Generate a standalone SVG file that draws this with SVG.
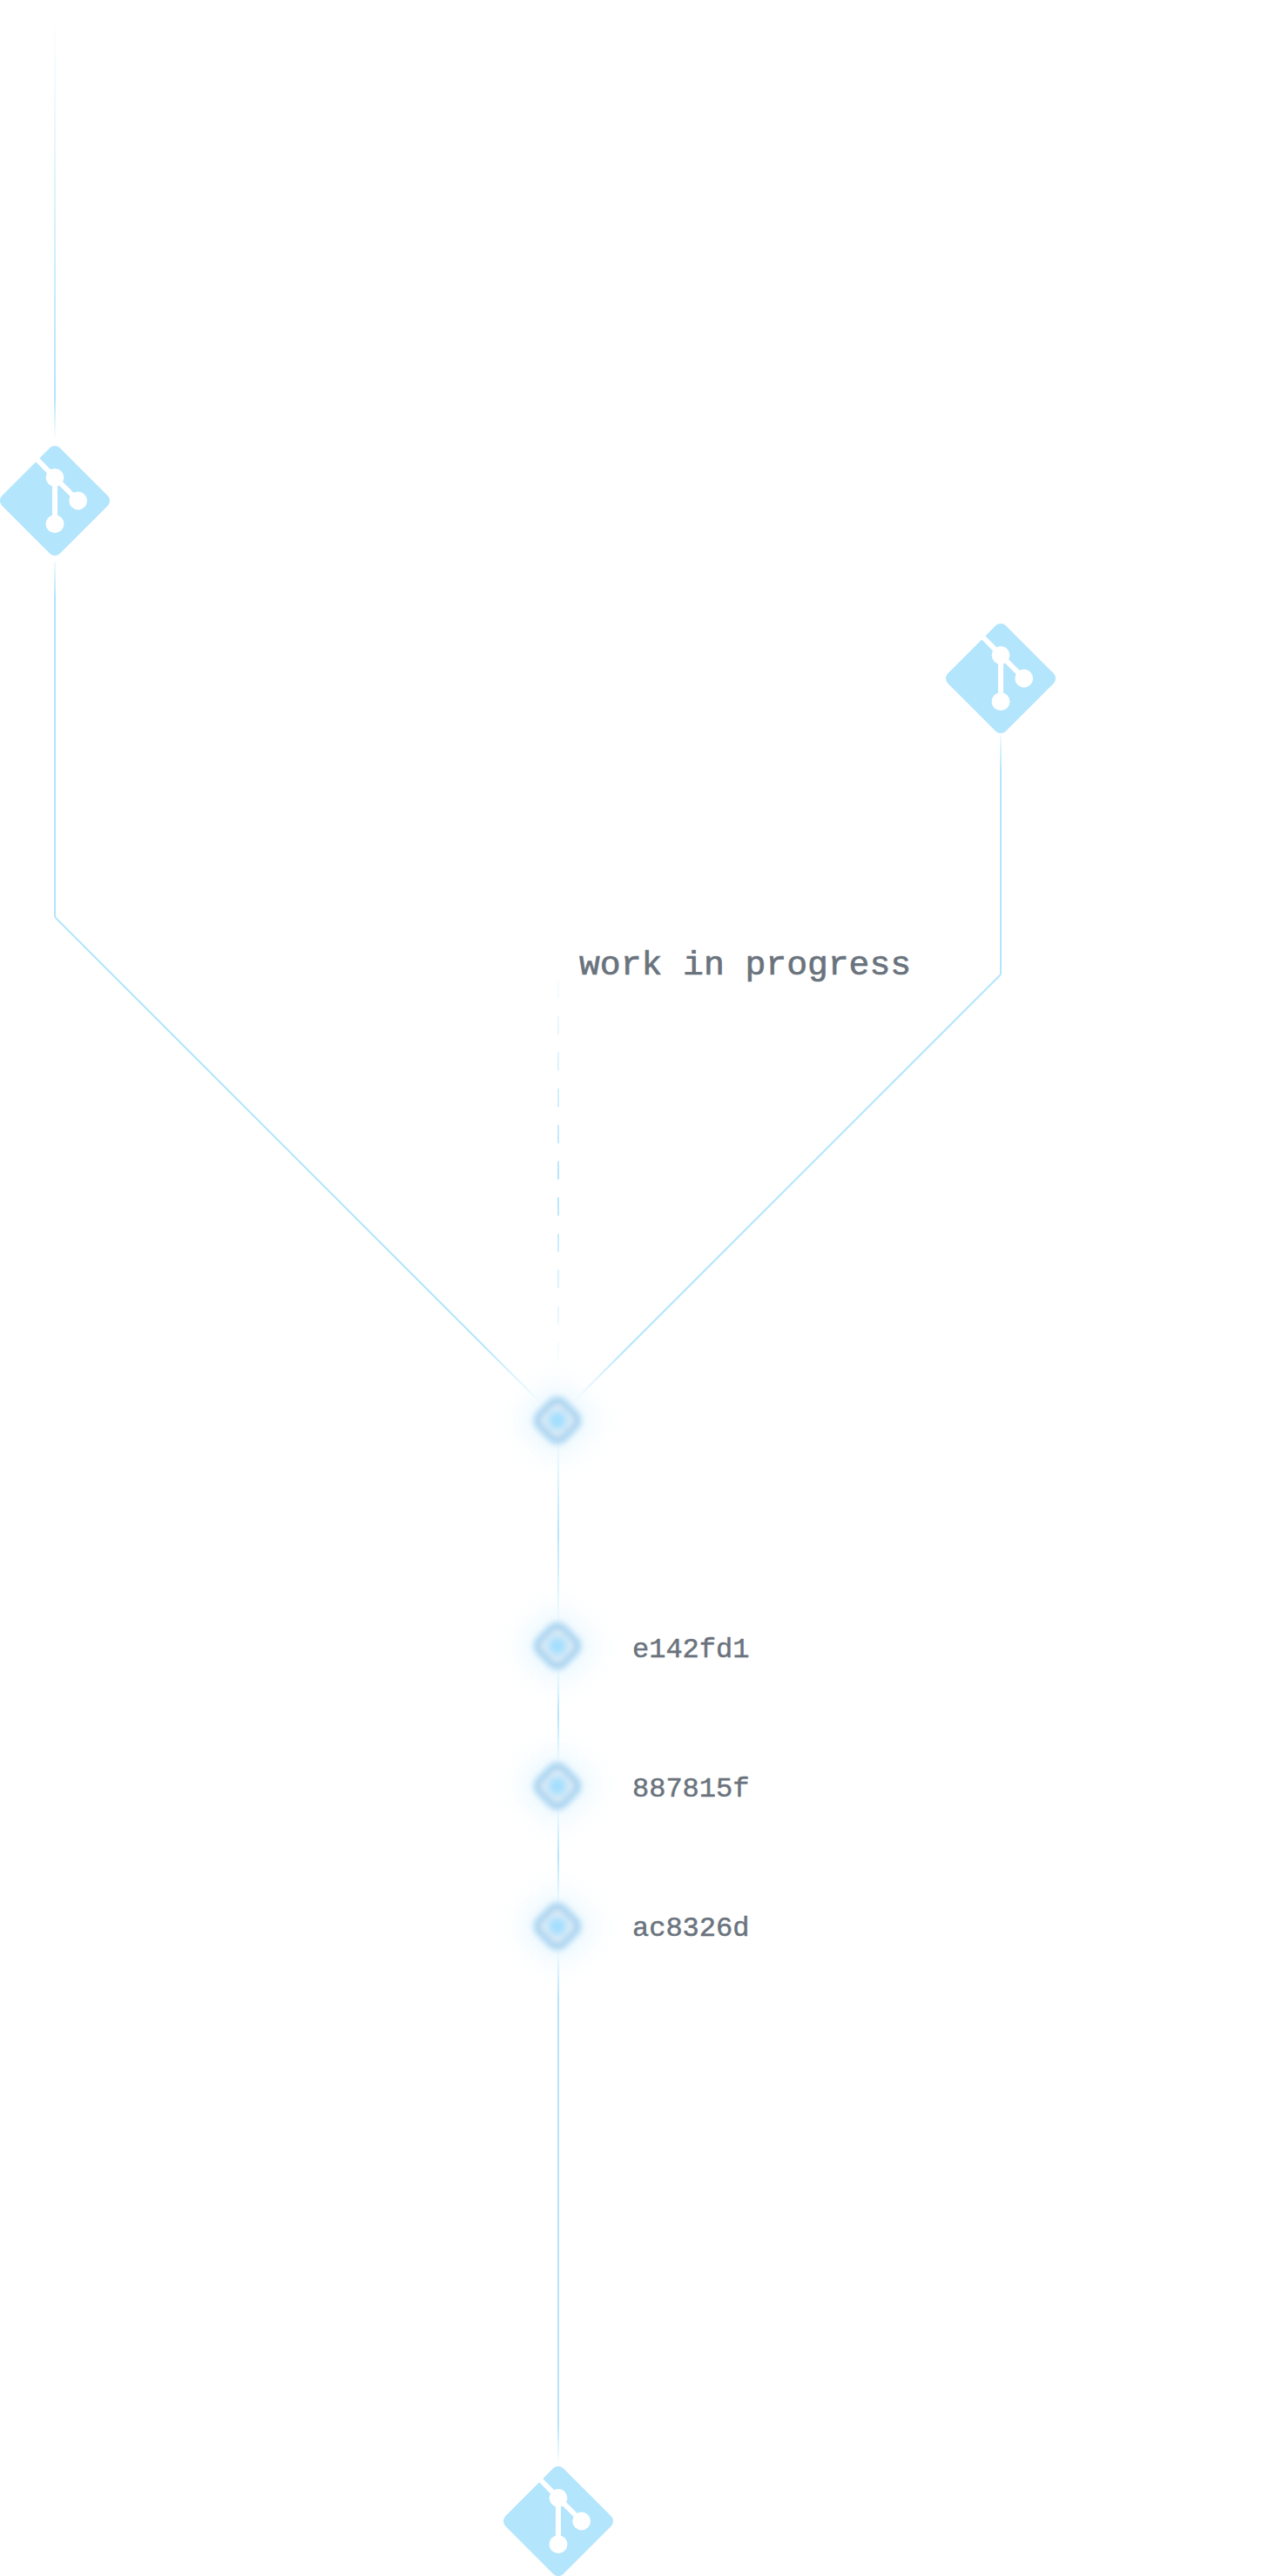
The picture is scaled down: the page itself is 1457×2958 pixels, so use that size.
<svg xmlns="http://www.w3.org/2000/svg" width="1457" height="2958" viewBox="0 0 1457 2958">
<style>
.wire{fill:none;stroke-width:2}
.plate{fill:#b3e5fc}
.cut{fill:none;stroke:#fff;stroke-width:6}
.dot{fill:#fff}
.ring{fill:#e6eef4;stroke:#a4d2f0;stroke-width:8;filter:url(#b3)}
.halo{fill:#b3e5fc;opacity:.24;filter:url(#b16)}
.core{fill:#a0deff;filter:url(#b6)}
text{font-family:"Liberation Mono","DejaVu Sans Mono",monospace;fill:#6a737d;stroke:#6a737d}
.big{font-size:39.7px;stroke-width:.7}
.small{font-size:32px;stroke-width:.5}
</style>
<defs>
<filter id="b3" x="-50%" y="-50%" width="200%" height="200%"><feGaussianBlur stdDeviation="3.5"/></filter>
<filter id="b6" x="-100%" y="-100%" width="300%" height="300%"><feGaussianBlur stdDeviation="5"/></filter>
<filter id="b16" x="-100%" y="-100%" width="300%" height="300%"><feGaussianBlur stdDeviation="15"/></filter>
<linearGradient id="g1" gradientUnits="userSpaceOnUse" x1="0" y1="10" x2="0" y2="505"><stop offset="0" stop-color="#b3e5fc" stop-opacity="0"/><stop offset=".9" stop-color="#b3e5fc"/><stop offset="1" stop-color="#b3e5fc" stop-opacity="0"/></linearGradient>
<linearGradient id="g2" gradientUnits="userSpaceOnUse" x1="0" y1="645" x2="0" y2="1053"><stop offset="0" stop-color="#b3e5fc" stop-opacity=".2"/><stop offset=".1" stop-color="#b3e5fc"/></linearGradient>
<linearGradient id="g3" gradientUnits="userSpaceOnUse" x1="63" y1="1053" x2="622" y2="1612"><stop offset=".88" stop-color="#b3e5fc"/><stop offset="1" stop-color="#b3e5fc" stop-opacity="0"/></linearGradient>
<linearGradient id="g4" gradientUnits="userSpaceOnUse" x1="0" y1="845" x2="0" y2="1119"><stop offset="0" stop-color="#b3e5fc" stop-opacity=".2"/><stop offset=".15" stop-color="#b3e5fc"/></linearGradient>
<linearGradient id="g5" gradientUnits="userSpaceOnUse" x1="1149" y1="1119" x2="658" y2="1610"><stop offset=".88" stop-color="#b3e5fc"/><stop offset="1" stop-color="#b3e5fc" stop-opacity="0"/></linearGradient>
<linearGradient id="g6" gradientUnits="userSpaceOnUse" x1="0" y1="1100" x2="0" y2="1575"><stop offset="0" stop-color="#b3e5fc" stop-opacity="0"/><stop offset=".55" stop-color="#b3e5fc"/><stop offset="1" stop-color="#b3e5fc" stop-opacity="0"/></linearGradient>
<linearGradient id="g7" gradientUnits="userSpaceOnUse" x1="0" y1="1650" x2="0" y2="1870"><stop offset="0" stop-color="#b3e5fc" stop-opacity="0"/><stop offset=".5" stop-color="#b3e5fc"/><stop offset="1" stop-color="#b3e5fc" stop-opacity="0"/></linearGradient>
<linearGradient id="g8" gradientUnits="userSpaceOnUse" x1="0" y1="1912" x2="0" y2="2028"><stop offset="0" stop-color="#b3e5fc" stop-opacity="0"/><stop offset=".5" stop-color="#b3e5fc"/><stop offset="1" stop-color="#b3e5fc" stop-opacity="0"/></linearGradient>
<linearGradient id="g9" gradientUnits="userSpaceOnUse" x1="0" y1="2073" x2="0" y2="2190"><stop offset="0" stop-color="#b3e5fc" stop-opacity="0"/><stop offset=".5" stop-color="#b3e5fc"/><stop offset="1" stop-color="#b3e5fc" stop-opacity="0"/></linearGradient>
<linearGradient id="g10" gradientUnits="userSpaceOnUse" x1="0" y1="2235" x2="0" y2="2830"><stop offset="0" stop-color="#b3e5fc" stop-opacity="0"/><stop offset=".1" stop-color="#b3e5fc"/><stop offset=".92" stop-color="#b3e5fc"/><stop offset="1" stop-color="#b3e5fc" stop-opacity="0"/></linearGradient>
<g id="git">
<rect class="plate" x="-46.9" y="-46.9" width="93.8" height="93.8" rx="8" transform="rotate(45)"/>
<path class="cut" d="M-23 -50L0 -26.7L26.7 0M0 -26.7V26.7"/>
<circle class="dot" cy="-26.7" r="10.4"/>
<circle class="dot" cx="26.7" r="10.4"/>
<circle class="dot" cy="26.7" r="10.4"/>
</g>
<g id="commit">
<rect class="halo" x="-36" y="-36" width="72" height="72" rx="14" transform="rotate(45)"/>
<rect class="ring" x="-19" y="-19" width="38" height="38" rx="9" transform="rotate(45)"/>
<circle class="core" r="11"/>
</g>
</defs>
<rect width="1457" height="2958" fill="#fff"/>
<g id="connectors">
<path class="wire" stroke="url(#g1)" d="M63 10V505"/>
<path class="wire" stroke="url(#g2)" d="M63 645V1053"/>
<path class="wire" stroke="url(#g3)" d="M63 1053L622 1612"/>
<path class="wire" stroke="url(#g4)" d="M1149 845V1119"/>
<path class="wire" stroke="url(#g5)" d="M1149 1119L658 1610"/>
<path class="wire" stroke="url(#g6)" stroke-dasharray="21 20.67" d="M641 1125V1570"/>
<path class="wire" stroke="url(#g7)" d="M641 1650V1870"/>
<path class="wire" stroke="url(#g8)" d="M641 1912V2028"/>
<path class="wire" stroke="url(#g9)" d="M641 2073V2190"/>
<path class="wire" stroke="url(#g10)" d="M641 2235V2830"/>
</g>
<g id="repo-top"><use href="#git" x="63" y="575"/></g>
<g id="repo-right"><use href="#git" x="1149" y="779"/></g>
<g id="repo-bottom"><use href="#git" x="641" y="2895"/></g>
<g id="commit-merge"><use href="#commit" x="640" y="1631"/></g>
<g id="commit-e142fd1"><use href="#commit" x="640" y="1890"/><text class="small" x="726" y="1903">e142fd1</text></g>
<g id="commit-887815f"><use href="#commit" x="640" y="2051"/><text class="small" x="726" y="2063">887815f</text></g>
<g id="commit-ac8326d"><use href="#commit" x="640" y="2212"/><text class="small" x="726" y="2223">ac8326d</text></g>
<g id="wip"><text class="big" x="665" y="1119">work in progress</text></g>
</svg>
